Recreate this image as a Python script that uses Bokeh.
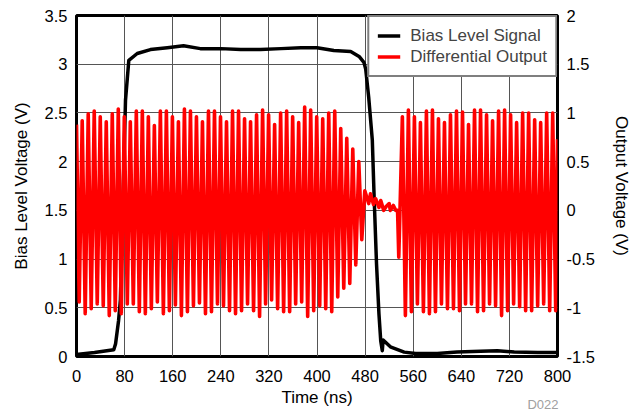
import numpy as np
from bokeh.plotting import figure
from bokeh.models import (Range1d, LinearAxis, Legend, LegendItem, FixedTicker,
                          Label, ColumnDataSource)
from bokeh.embed import file_html
from bokeh.resources import INLINE

# ---------------- data ----------------
x_ticks = [0, 80, 160, 240, 320, 400, 480, 560, 640, 720, 800]
left_ticks = [0, 0.5, 1, 1.5, 2, 2.5, 3, 3.5]
right_ticks = [-1.5, -1, -0.5, 0, 0.5, 1, 1.5, 2]

# Bias level signal (ns, V)
bias_t = [0, 30, 62, 65, 70, 73, 81.5, 87, 101, 123, 151, 178, 206, 240, 273, 306,
          340, 373, 400, 428, 456, 470, 478, 481, 486, 492, 495, 499, 503, 506,
          508.6, 510, 522, 545, 564, 600, 633, 672, 700, 728, 767, 800]
bias_v = [0.02, 0.04, 0.07, 0.13, 0.37, 0.58, 2.63, 3.04, 3.11, 3.15, 3.17, 3.19, 3.16,
          3.16, 3.15, 3.15, 3.16, 3.17, 3.17, 3.14, 3.13, 3.08, 3.02, 2.95, 2.66, 2.22,
          1.64, 0.95, 0.44, 0.16, 0.06, 0.17, 0.10, 0.045, 0.03, 0.03, 0.045, 0.055,
          0.06, 0.045, 0.04, 0.04]

# Differential output, burst 1: first point, troughs (t = 4.5, 14.5, ...) and peaks (t = 9.5, 19.5, ...)
burst1_start = (0.0, 0.88)
burst1_t0 = 4.5
burst1_troughs = [-0.94, -1.06, -1.01, -0.96, -0.98, -1.08, -1.03, -1.06, -0.96, -0.96,
                  -1.04, -1.06, -1.01, -0.94, -1.06, -1.03, -0.97, -1.08, -1.04, -0.98,
                  -0.95, -1.06, -1.04, -0.96, -0.98, -1.03, -1.06, -1.03, -0.96, -1.03,
                  -1.09, -0.96, -0.92, -1.01, -1.04, -1.04, -0.96, -0.94, -1.09, -1.03,
                  -0.98, -1.01, -1.04, -0.89, -0.80, -0.75, -0.56, -0.30]
burst1_peaks = [0.92, 0.99, 1.02, 0.96, 0.91, 0.99, 1.04, 0.96, 0.91, 1.02,
                1.02, 0.96, 0.87, 1.02, 1.02, 0.96, 0.91, 1.04, 1.02, 0.96,
                0.91, 1.02, 1.02, 0.96, 0.91, 1.02, 1.02, 0.94, 0.91, 0.98,
                1.03, 0.98, 0.88, 1.00, 1.02, 0.96, 0.90, 1.06, 1.03, 0.96,
                0.94, 1.00, 1.02, 0.84, 0.74, 0.63, 0.50, 0.20]
half_period = 5.0

# Settled region between the bursts (ns, V)
quiet_t = [486, 489, 494, 497.5, 503, 506, 511, 515, 520, 522, 527, 531, 534, 536]
quiet_v = [0.07, 0.17, 0.06, 0.12, 0.03, 0.10, 0.00, 0.04, 0.07, 0.00, 0.05, 0.00, 0.00, -0.48]

# Burst 2: peaks (t = 542, 552, ...) and troughs (t = 547, 557, ...)
burst2_t0 = 542.0
burst2_peaks = [0.96, 1.03, 0.96, 0.90, 1.02, 1.03, 0.94, 0.90, 0.98, 1.02,
                1.01, 0.88, 1.03, 1.03, 0.98, 0.92, 1.02, 1.03, 0.98, 0.90,
                1.00, 1.00, 0.93, 0.90, 1.00, 1.00]
burst2_troughs = [-1.08, -1.04, -0.96, -1.04, -1.06, -1.04, -0.96, -1.01, -1.01, -1.03,
                  -0.96, -0.96, -1.04, -1.03, -0.96, -0.98, -1.08, -1.03, -0.96, -0.99,
                  -1.03, -1.03, -0.98, -0.96, -1.03, -1.03]
burst2_end = (800.0, 0.73)

# ---------------- assemble red trace ----------------
red_t = [burst1_start[0]]
red_v = [burst1_start[1]]
for k, (tr, pk) in enumerate(zip(burst1_troughs, burst1_peaks)):
    t = burst1_t0 + 2 * half_period * k
    red_t += [t, t + half_period]
    red_v += [tr, pk]
red_t += quiet_t
red_v += quiet_v
for k, (pk, tr) in enumerate(zip(burst2_peaks, burst2_troughs)):
    t = burst2_t0 + 2 * half_period * k
    red_t += [t, t + half_period]
    red_v += [pk, tr]
red_t.append(burst2_end[0])
red_v.append(burst2_end[1])

FONT = "Liberation Sans"

p = figure(width=639, height=414, output_backend="svg", toolbar_location=None,
           x_range=Range1d(0, 800), y_range=Range1d(0, 3.5),
           min_border_left=76, min_border_right=82, min_border_top=15,
           min_border_bottom=58)
p.extra_y_ranges = {"out": Range1d(-1.5, 2)}

p.outline_line_color = "black"
p.outline_line_width = 3
p.background_fill_color = "white"
p.border_fill_color = "white"

bias_line = p.line(bias_t, bias_v, line_color="black", line_width=3.5,
                   line_join="round")
red_line = p.line(red_t, red_v, y_range_name="out", line_color="#ff0000",
                  line_width=3.6, line_join="round")

# axes
p.xaxis.ticker = FixedTicker(ticks=x_ticks)
p.yaxis.ticker = FixedTicker(ticks=left_ticks)
p.yaxis.major_label_overrides = {v: ("%g" % v) for v in left_ticks}
p.xaxis.axis_label = "Time (ns)"
p.yaxis.axis_label = "Bias Level Voltage (V)"

ry = LinearAxis(y_range_name="out", axis_label="Output Voltage (V)",
                ticker=FixedTicker(ticks=right_ticks))
ry.major_label_overrides = {v: ("%g" % v) for v in right_ticks}
p.add_layout(ry, "right")

for ax in [p.xaxis[0], p.yaxis[0], ry]:
    ax.axis_line_color = None
    ax.major_tick_line_color = None
    ax.minor_tick_line_color = None
    ax.major_tick_out = 0
    ax.major_tick_in = 0
    ax.major_label_text_font = FONT
    ax.major_label_text_font_size = "16.5px"
    ax.major_label_text_color = "black"
    ax.axis_label_text_font = FONT
    ax.axis_label_text_font_size = "17px"
    ax.axis_label_text_font_style = "normal"
    ax.axis_label_text_color = "black"
p.xaxis.major_label_standoff = 13
p.xaxis.axis_label_standoff = 3
p.yaxis.major_label_standoff = 9
p.yaxis.axis_label_standoff = 11
ry.major_label_standoff = 9
ry.axis_label_standoff = 14

p.xgrid.grid_line_color = "#555555"
p.xgrid.grid_line_width = 1
p.ygrid.grid_line_color = "#555555"
p.ygrid.grid_line_width = 1
p.xgrid.ticker = FixedTicker(ticks=x_ticks)
p.ygrid.ticker = FixedTicker(ticks=left_ticks)

legend = Legend(items=[LegendItem(label="Bias Level Signal", renderers=[bias_line]),
                       LegendItem(label="Differential Output", renderers=[red_line])],
                location="top_right")
legend.margin = 0
legend.padding = 8
legend.spacing = 0
legend.border_line_color = "black"
legend.border_line_width = 2
legend.background_fill_alpha = 1
legend.label_text_font = FONT
legend.label_text_font_size = "17px"
legend.glyph_width = 23
legend.glyph_height = 21
legend.label_height = 21
legend.label_standoff = 10
p.add_layout(legend)

note = Label(x=558, y=411, x_units="canvas", y_units="canvas", text="D022",
             text_font=FONT, text_font_size="13px", text_baseline="bottom",
             text_color="#a0a0a0", text_align="right")
p.add_layout(note, "above")

open("out.html", "w").write(file_html(p, INLINE))
